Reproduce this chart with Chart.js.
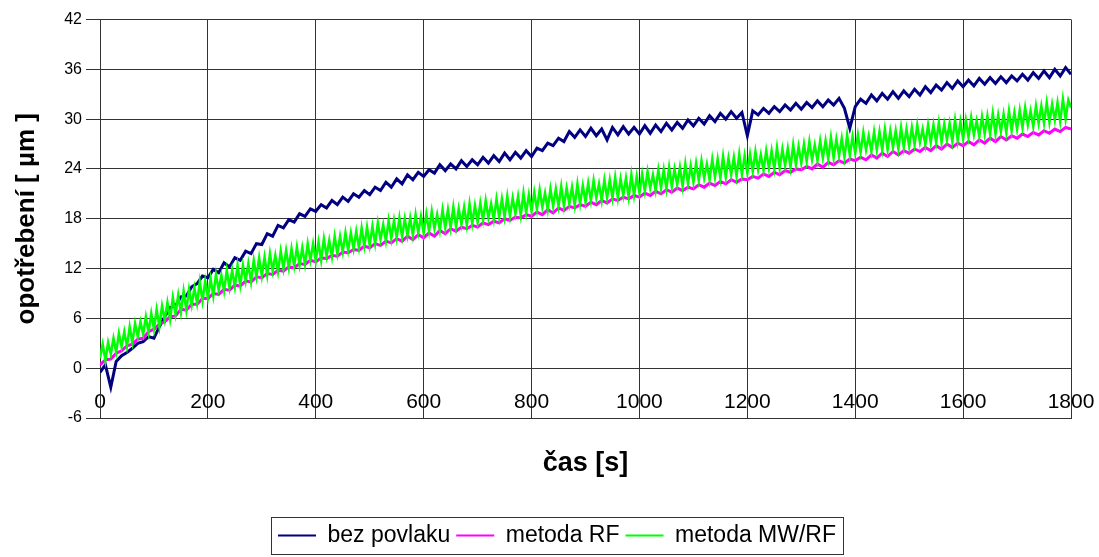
<!DOCTYPE html>
<html>
<head>
<meta charset="utf-8">
<script src="https://cdn.jsdelivr.net/npm/chart.js@4.4.1/dist/chart.umd.min.js"></script>
<style>
  html, body { margin: 0; padding: 0; background: #fff; }
</style>
</head>
<body>
<canvas id="graf" width="1099" height="557"></canvas>
<script>
// časy měření [s]
const casy10 = [
  0,10,20,30,40,50,60,70,80,90, 100,110,120,130,140,150,160,170,180,190,
  200,210,220,230,240,250,260,270,280,290, 300,310,320,330,340,350,360,370,380,390,
  400,410,420,430,440,450,460,470,480,490, 500,510,520,530,540,550,560,570,580,590,
  600,610,620,630,640,650,660,670,680,690, 700,710,720,730,740,750,760,770,780,790,
  800,810,820,830,840,850,860,870,880,890, 900,910,920,930,940,950,960,970,980,990,
  1000,1010,1020,1030,1040,1050,1060,1070,1080,1090, 1100,1110,1120,1130,1140,1150,1160,1170,1180,1190,
  1200,1210,1220,1230,1240,1250,1260,1270,1280,1290, 1300,1310,1320,1330,1340,1350,1360,1370,1380,1390,
  1400,1410,1420,1430,1440,1450,1460,1470,1480,1490, 1500,1510,1520,1530,1540,1550,1560,1570,1580,1590,
  1600,1610,1620,1630,1640,1650,1660,1670,1680,1690, 1700,1710,1720,1730,1740,1750,1760,1770,1780,1790,
  1800
];
const casy5 = [
  0,5,10,15,20,25,30,35,40,45,50,55,60,65,70,75,80,85,90,95,
  100,105,110,115,120,125,130,135,140,145,150,155,160,165,170,175,180,185,190,195,
  200,205,210,215,220,225,230,235,240,245,250,255,260,265,270,275,280,285,290,295,
  300,305,310,315,320,325,330,335,340,345,350,355,360,365,370,375,380,385,390,395,
  400,405,410,415,420,425,430,435,440,445,450,455,460,465,470,475,480,485,490,495,
  500,505,510,515,520,525,530,535,540,545,550,555,560,565,570,575,580,585,590,595,
  600,605,610,615,620,625,630,635,640,645,650,655,660,665,670,675,680,685,690,695,
  700,705,710,715,720,725,730,735,740,745,750,755,760,765,770,775,780,785,790,795,
  800,805,810,815,820,825,830,835,840,845,850,855,860,865,870,875,880,885,890,895,
  900,905,910,915,920,925,930,935,940,945,950,955,960,965,970,975,980,985,990,995,
  1000,1005,1010,1015,1020,1025,1030,1035,1040,1045,1050,1055,1060,1065,1070,1075,1080,1085,1090,1095,
  1100,1105,1110,1115,1120,1125,1130,1135,1140,1145,1150,1155,1160,1165,1170,1175,1180,1185,1190,1195,
  1200,1205,1210,1215,1220,1225,1230,1235,1240,1245,1250,1255,1260,1265,1270,1275,1280,1285,1290,1295,
  1300,1305,1310,1315,1320,1325,1330,1335,1340,1345,1350,1355,1360,1365,1370,1375,1380,1385,1390,1395,
  1400,1405,1410,1415,1420,1425,1430,1435,1440,1445,1450,1455,1460,1465,1470,1475,1480,1485,1490,1495,
  1500,1505,1510,1515,1520,1525,1530,1535,1540,1545,1550,1555,1560,1565,1570,1575,1580,1585,1590,1595,
  1600,1605,1610,1615,1620,1625,1630,1635,1640,1645,1650,1655,1660,1665,1670,1675,1680,1685,1690,1695,
  1700,1705,1710,1715,1720,1725,1730,1735,1740,1745,1750,1755,1760,1765,1770,1775,1780,1785,1790,1795,
  1800
];

// opotřebení [µm]
const bezPovlaku = [
  -0.5,0.4,-2.3,0.8,1.5,1.9,2.4,3.0,3.2,3.8, 3.6,5.0,6.2,7.3,7.5,8.6,8.7,9.8,10.2,11.1,
  10.9,11.9,11.5,12.7,12.2,13.3,13.0,14.1,13.8,15.0, 14.9,16.2,15.9,17.2,16.9,17.9,17.6,18.6,18.3,19.2,
  18.9,19.7,19.3,20.2,19.7,20.6,20.1,21.0,20.6,21.4, 20.9,21.8,21.4,22.4,21.8,22.8,22.2,23.3,22.7,23.6,
  23.1,23.9,23.5,24.5,23.8,24.6,24.0,25.0,24.3,25.1, 24.5,25.4,24.7,25.6,24.9,25.9,25.1,26.0,25.3,26.2,
  25.5,26.5,26.2,27.1,26.8,27.7,27.3,28.5,27.8,28.7, 27.9,28.9,28.0,28.8,27.5,29.0,28.1,29.1,28.2,29.0,
  28.2,29.2,28.3,29.3,28.5,29.5,28.7,29.6,28.9,29.9, 29.2,30.1,29.4,30.4,29.7,30.7,30.0,30.9,30.1,30.8,
  28.0,31.0,30.5,31.3,30.7,31.5,30.9,31.7,31.1,31.9, 31.2,32.0,31.4,32.2,31.5,32.3,31.7,32.5,31.3,28.9,
  31.5,32.4,31.9,32.9,32.2,33.1,32.4,33.3,32.5,33.4, 32.7,33.6,32.9,33.9,33.2,34.1,33.5,34.4,33.7,34.6,
  33.9,34.7,34.0,34.9,34.2,35.0,34.3,35.1,34.4,35.2, 34.6,35.4,34.7,35.6,34.9,35.8,35.0,36.0,35.2,36.2,
  35.4
];
const metodaRF = [
  0.4,1.0,1.1,1.8,2.1,2.7,2.9,3.5,3.6,4.4, 4.7,5.3,5.6,6.2,6.3,7.1,7.0,7.7,7.7,8.4,
  8.4,9.0,8.9,9.5,9.4,10.0,9.9,10.5,10.4,11.0, 10.9,11.4,11.3,11.8,11.7,12.2,12.1,12.6,12.5,13.0,
  12.8,13.3,13.2,13.6,13.5,14.0,13.9,14.3,14.2,14.7, 14.5,15.0,14.8,15.3,15.1,15.6,15.3,15.9,15.5,16.1,
  15.7,16.3,15.9,16.6,16.2,16.8,16.5,17.0,16.8,17.2, 17.0,17.5,17.3,17.7,17.5,18.0,17.8,18.2,18.1,18.5,
  18.3,18.8,18.5,19.1,18.7,19.3,19.0,19.5,19.3,19.7, 19.5,20.0,19.7,20.2,19.9,20.4,20.2,20.6,20.4,20.8,
  20.6,21.1,20.8,21.3,21.0,21.5,21.2,21.7,21.4,21.8, 21.6,22.1,21.8,22.3,22.0,22.5,22.2,22.7,22.4,22.8,
  22.7,23.1,22.9,23.4,23.1,23.6,23.3,23.8,23.6,24.0, 23.9,24.3,24.0,24.6,24.2,24.8,24.5,25.0,24.7,25.2,
  25.0,25.4,25.1,25.7,25.3,25.9,25.5,26.1,25.7,26.2, 25.9,26.4,26.1,26.6,26.2,26.8,26.4,27.0,26.6,27.1,
  26.8,27.3,26.9,27.5,27.1,27.7,27.3,27.9,27.5,28.0, 27.7,28.2,27.9,28.4,28.1,28.6,28.3,28.8,28.5,29.0,
  28.8
];
const metodaMWRF = [
  1.2,2.9,0.9,3.1,1.7,3.6,1.9,4.2,2.6,4.4,2.6,5.0,3.1,5.4,3.8,5.6,4.1,6.2,4.3,6.6,
  4.7,7.1,5.0,7.5,5.8,7.9,5.9,8.5,6.5,8.8,6.7,9.3,7.0,9.5,7.6,9.7,7.8,10.4,8.1,10.5,
  8.5,10.8,8.7,11.3,9.4,11.2,9.3,11.8,9.7,11.8,9.8,12.4,10.0,12.4,10.5,12.6,10.4,13.0,11.0,13.3,
  11.1,13.4,11.2,13.8,11.7,13.6,11.6,14.1,12.0,14.2,12.1,14.4,12.3,14.6,12.4,14.5,12.5,15.0,13.0,15.0,
  12.9,15.2,13.0,15.6,13.5,15.4,13.4,15.9,13.8,15.9,14.0,16.3,14.2,16.3,14.4,16.5,14.5,16.9,14.7,17.0,
  14.8,17.1,15.0,17.5,15.5,17.3,15.3,17.8,15.6,17.8,15.7,18.1,15.8,18.0,16.0,18.1,16.0,18.5,16.3,18.3,
  16.3,18.6,16.5,18.9,16.8,18.5,16.6,19.1,16.9,19.1,16.9,19.4,17.0,19.2,17.3,19.4,17.2,19.8,17.4,19.6,
  17.6,19.9,17.8,20.2,18.1,19.8,17.9,20.4,18.2,20.4,18.2,20.7,18.3,20.5,18.6,20.7,18.4,21.1,18.7,20.9,
  18.9,21.2,19.1,21.5,19.4,21.1,19.1,21.6,19.5,21.6,19.5,21.9,19.5,21.7,19.8,21.8,19.6,22.2,19.8,22.0,
  20.0,22.3,20.2,22.6,20.5,22.2,20.2,22.7,20.5,22.7,20.5,23.0,20.5,22.8,20.8,22.9,20.6,23.3,20.8,23.1,
  21.1,23.4,21.3,23.7,21.7,23.3,21.4,23.9,21.7,23.9,21.6,24.2,21.8,24.0,22.1,24.2,21.9,24.6,22.2,24.4,
  22.4,24.7,22.6,25.0,22.9,24.6,22.7,25.2,23.0,25.2,22.9,25.5,23.0,25.3,23.3,25.4,23.1,25.8,23.3,25.6,
  23.5,25.8,23.7,26.1,23.9,25.7,23.8,26.2,24.1,26.2,24.0,26.6,24.1,26.4,24.4,26.5,24.2,26.9,24.5,26.7,
  24.7,27.0,24.9,27.3,25.1,26.9,25.0,27.4,25.3,27.4,25.2,27.8,25.3,27.6,25.6,27.7,25.4,28.1,25.6,27.9,
  25.9,28.1,26.0,28.4,26.3,28.0,26.1,28.5,26.3,28.5,26.3,28.8,26.3,28.6,26.6,28.6,26.4,29.0,26.6,28.8,
  26.7,29.0,26.9,29.3,27.2,28.8,26.9,29.3,27.2,29.3,27.2,29.6,27.2,29.4,27.5,29.5,27.3,29.9,27.4,29.7,
  27.6,29.9,27.8,30.2,28.1,29.8,27.9,30.3,28.2,30.4,28.2,30.7,28.2,30.5,28.5,30.6,28.4,31.0,28.6,30.8,
  28.8,31.1,29.0,31.4,29.3,31.0,29.1,31.6,29.5,31.6,29.5,32.0,29.6,31.8,29.9,32.0,29.7,32.4,30.0,32.3,
  31.4
];

const tickyX = [0, 200, 400, 600, 800, 1000, 1200, 1400, 1600, 1800];
const tickyY = [-6, 0, 6, 12, 18, 24, 30, 36, 42];

const pismo = "'Liberation Sans', Arial, sans-serif";
const barvaMrizky = '#333';

// spojí časy a hodnoty do bodů {x, y}
function body(casy, hodnoty) {
    return hodnoty.map((v, i) => ({ x: casy[i], y: v }));
}

// rámeček kolem legendy
const ramecekLegendy = {
    id: 'ramecekLegendy',
    afterDraw(chart) {
        const boxy = chart.legend && chart.legend.legendHitBoxes;
        if (!boxy || !boxy.length) return;
        const prvni = boxy[0];
        const posledni = boxy[boxy.length - 1];
        const x1 = Math.round(prvni.left - 7) + 0.5;
        const x2 = Math.round(posledni.left + posledni.width + 7) + 0.5;
        const y1 = Math.round(prvni.top - 7) + 0.5;
        const y2 = Math.round(prvni.top + prvni.height + 7) + 0.5;
        const ctx = chart.ctx;
        ctx.save();
        ctx.strokeStyle = '#333';
        ctx.lineWidth = 1;
        ctx.strokeRect(x1, y1, x2 - x1, y2 - y1);
        ctx.restore();
    }
};

new Chart(document.getElementById('graf'), {
    type: 'line',
    data: {
        datasets: [{
            label: 'bez povlaku',
            data: body(casy10, bezPovlaku),
            borderColor: '#000080',
            backgroundColor: '#000080',
            borderWidth: 3,
            order: 2
        }, {
            label: 'metoda RF',
            data: body(casy10, metodaRF),
            borderColor: '#ff00ff',
            backgroundColor: '#ff00ff',
            borderWidth: 3,
            order: 1
        }, {
            label: 'metoda MW/RF',
            data: body(casy5, metodaMWRF),
            borderColor: '#00ff00',
            backgroundColor: '#00ff00',
            borderWidth: 2.5,
            order: 0
        }]
    },
    options: {
        responsive: false,
        animation: false,
        elements: { point: { radius: 0 }, line: { tension: 0 } },
        layout: { padding: { top: 19.5, right: 28, bottom: 0, left: 43 } },
        plugins: {
            legend: {
                position: 'bottom',
                labels: {
                    usePointStyle: true,
                    pointStyle: 'line',
                    pointStyleWidth: 38,
                    padding: 6,
                    color: '#000',
                    font: { family: pismo, size: 23 },
                    sort: (a, b) => a.datasetIndex - b.datasetIndex,
                    generateLabels: chart => Chart.defaults.plugins.legend.labels.generateLabels(chart)
                        .map(polozka => ({ ...polozka, lineWidth: 2 }))
                }
            },
            tooltip: { enabled: false }
        },
        scales: {
            x: {
                type: 'linear',
                position: 'bottom',
                min: 0,
                max: 1800,
                afterBuildTicks: s => { s.ticks = tickyX.map(v => ({ value: v })); },
                afterFit: s => { s.height = s.chart.height - 418 - s.chart.legend.height; },
                grid: { color: barvaMrizky, drawTicks: false },
                border: { color: barvaMrizky },
                ticks: {
                    mirror: true,
                    padding: 3,
                    color: '#000',
                    maxRotation: 0,
                    autoSkip: false,
                    font: { family: pismo, size: 21 },
                    callback: v => String(v)
                },
                title: {
                    display: true,
                    text: 'čas [s]',
                    color: '#000',
                    font: { family: pismo, size: 27, weight: 'bold' },
                    padding: { top: 25, bottom: 38 }
                }
            },
            y: {
                min: -6,
                max: 42,
                afterBuildTicks: s => { s.ticks = tickyY.map(v => ({ value: v })); },
                afterFit: s => { s.width = 57; },
                grid: { color: barvaMrizky, tickLength: 14 },
                border: { color: barvaMrizky },
                ticks: {
                    padding: 4,
                    color: '#000',
                    font: { family: pismo, size: 16 }
                },
                title: {
                    display: true,
                    text: 'opotřebení [ µm ]',
                    color: '#000',
                    font: { family: pismo, size: 26, weight: 'bold' },
                    padding: { top: -32, bottom: 0 }
                }
            }
        }
    },
    plugins: [ramecekLegendy]
});
</script>
</body>
</html>
